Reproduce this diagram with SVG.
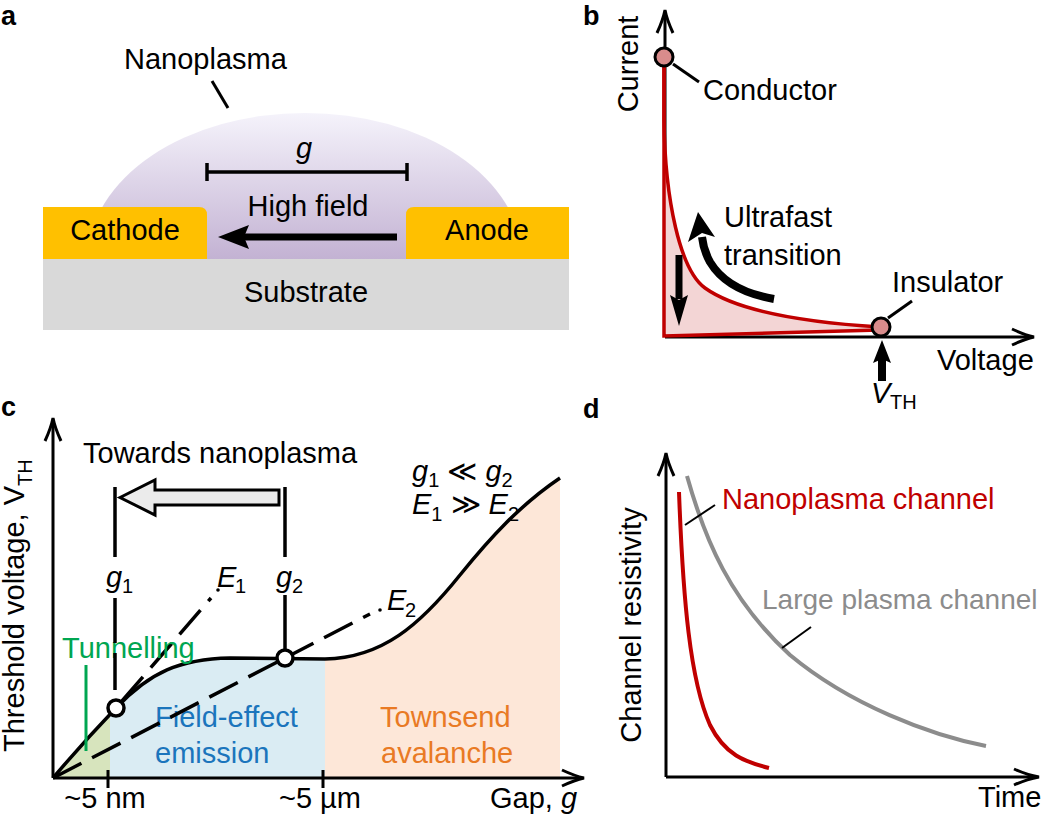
<svg xmlns="http://www.w3.org/2000/svg" width="1046" height="818" viewBox="0 0 1046 818">
<style>
text{font-family:"Liberation Sans",Arial,Helvetica,sans-serif;font-size:29px;fill:#000}
.lbl{font-weight:bold;font-size:27px}
.it{font-style:italic}
.sub{font-size:20px}
.ax{stroke:#000;stroke-width:3;fill:none}
.ah{stroke:#000;stroke-width:3;fill:none;stroke-linejoin:miter}
.ld{stroke:#000;stroke-width:3;fill:none}
.red{stroke:#c00000;stroke-width:3.5;fill:none}
.blk{stroke:#000;stroke-width:3.5;fill:none}
.dash{stroke:#000;stroke-width:3.5;fill:none;stroke-dasharray:32 12}
.circ{fill:#d98c8c;stroke:#000;stroke-width:3}
.wc{fill:#fff;stroke:#000;stroke-width:3.5}
</style>
<defs>
<linearGradient id="dome" x1="0" y1="113" x2="0" y2="259" gradientUnits="userSpaceOnUse">
<stop offset="0" stop-color="#f5f3fb"/>
<stop offset="1" stop-color="#c3b2d3"/>
</linearGradient>
</defs>

<!-- Panel a -->
<g id="panel-a">
<text class="lbl" x="1" y="25">a</text>
<path d="M88,259 A217,146 0 0 1 522,259 Z" fill="url(#dome)"/>
<rect x="43" y="259" width="526" height="71" fill="#d9d9d9"/>
<path d="M43,207 H199 Q207,207 207,215 V259 H43 Z" fill="#ffc000"/>
<path d="M414,207 H569 V259 H406 V215 Q406,207 414,207 Z" fill="#ffc000"/>
<text x="124" y="69">Nanoplasma</text>
<line class="ld" x1="212" y1="81" x2="228" y2="108"/>
<text class="it" x="304" y="158" text-anchor="middle">g</text>
<g stroke="#000" stroke-width="3.5">
<line x1="207" y1="172" x2="407" y2="172"/>
<line x1="207" y1="163" x2="207" y2="181"/>
<line x1="407" y1="163" x2="407" y2="181"/>
</g>
<text x="308" y="216" text-anchor="middle">High field</text>
<rect x="243" y="233.5" width="154" height="7" fill="#000"/>
<path d="M218,237 L249,225 L244,237 L249,249 Z" fill="#000"/>
<text x="125" y="240" text-anchor="middle">Cathode</text>
<text x="487" y="240" text-anchor="middle">Anode</text>
<text x="306" y="302" text-anchor="middle">Substrate</text>
</g>

<!-- Panel b -->
<g id="panel-b">
<text class="lbl" x="583" y="25">b</text>
<line class="ax" x1="665" y1="12" x2="665" y2="337"/>
<path class="ah" d="M657,33 Q663,20 665,10 Q667,20 673,33"/>
<line class="ax" x1="665" y1="337" x2="1031" y2="337"/>
<path class="ah" d="M1012,329 Q1025,335 1034,337 Q1025,339 1012,345"/>
<path d="M664,57 L664,120 C665,200 680,270 705,288 C735,309.6 800,322 880,327 L877,330 L664,336 Z" fill="#f3d5d5"/>
<path class="red" d="M664,57 L664,120 C665,200 680,270 705,288 C735,309.6 800,322 880,327"/>
<path class="red" d="M664,57 L664,336 L879,330"/>
<circle class="circ" cx="664" cy="57" r="9"/>
<circle class="circ" cx="881" cy="327" r="9"/>
<line class="ld" x1="673" y1="64" x2="699" y2="82"/>
<line class="ld" x1="888" y1="318" x2="912" y2="301"/>
<text x="703" y="100">Conductor</text>
<text x="892" y="292">Insulator</text>
<text transform="translate(638,64) rotate(-90)" text-anchor="middle">Current</text>
<text x="937" y="370">Voltage</text>
<text x="724" y="227">Ultrafast</text>
<text x="724" y="265">transition</text>
<path d="M774,299 C745,294 722,282 710,262 C705,253 703,246 702,237" stroke="#000" stroke-width="8" fill="none"/>
<path d="M688,242 L698,212 L715,237 L702,233 Z" fill="#000"/>
<rect x="675.5" y="255" width="7" height="44" fill="#000"/>
<path d="M670,295 L679,326 L688,295 L679,300 Z" fill="#000"/>
<rect x="878" y="357" width="8" height="24" fill="#000"/>
<path d="M873,363 L882,340 L891,363 L882,359 Z" fill="#000"/>
<text class="it" x="871" y="403">V</text>
<text class="sub" x="890" y="409">TH</text>
</g>

<!-- Panel c -->
<g id="panel-c">
<text class="lbl" x="1" y="416">c</text>
<path d="M53,778 L83,742 L110,714 L110,778 Z" fill="#d7e4bd"/>
<path d="M110,778 L110,714 L116,708 C150,672 180,659 230,658 L325,659 L325,778 Z" fill="#daecf3"/>
<path d="M325,778 L325,659 C382,658 420,625 460,575 C490,538 520,505 560,478 L560,468 L560,778 Z" fill="#fde7d8"/>
<text x="155" y="727" style="fill:#1b75bc">Field-effect</text>
<text x="155" y="763" style="fill:#1b75bc">emission</text>
<text x="380" y="727" style="fill:#e97a24">Townsend</text>
<text x="381" y="763" style="fill:#e97a24">avalanche</text>
<line class="ax" x1="53" y1="420" x2="53" y2="778"/>
<path class="ah" d="M45,441 Q51,428 53,418 Q55,428 61,441"/>
<line class="ax" x1="53" y1="778" x2="580" y2="778"/>
<path class="ah" d="M562,770 Q575,776 584,778 Q575,780 562,786"/>
<line class="ax" x1="108" y1="770" x2="108" y2="788"/>
<line class="ax" x1="323" y1="770" x2="323" y2="788"/>
<path class="dash" d="M53,778 L285,658"/>
<path class="dash" d="M285,658 L370,614"/>
<circle cx="380" cy="610" r="1.8" fill="#000"/>
<path class="dash" d="M122,701 L211,598" stroke-dasharray="34 12"/>
<circle cx="218" cy="590" r="1.8" fill="#000"/>
<path class="blk" d="M53,778 C75,752 95,730 116,708 C150,672 180,659 230,658 L325,659 C382,658 420,625 460,575 C490,538 520,505 560,478"/>
<line x1="86" y1="665" x2="86" y2="751" stroke="#00a651" stroke-width="3"/>
<text x="62" y="658" style="fill:#00a651">Tunnelling</text>
<g stroke="#000" stroke-width="3.5">
<line x1="115" y1="487" x2="115" y2="557"/>
<line x1="115" y1="598" x2="115" y2="643"/>
<line x1="115" y1="653" x2="115" y2="690"/>
<line x1="285" y1="487" x2="285" y2="557"/>
<line x1="285" y1="595" x2="285" y2="650"/>
</g>
<path d="M120,497.5 L155,480 L155,490 L279,490 L279,505 L155,505 L155,515 Z" fill="#ebebeb" stroke="#000" stroke-width="3" stroke-linejoin="miter"/>
<circle class="wc" cx="116" cy="708" r="8"/>
<circle class="wc" cx="285" cy="658" r="8"/>
<text x="83" y="463">Towards nanoplasma</text>
<text class="it" x="106" y="587">g</text><text class="sub" x="122" y="593">1</text>
<text class="it" x="276" y="587">g</text><text class="sub" x="292" y="593">2</text>
<text class="it" x="217" y="587">E</text><text class="sub" x="235" y="593">1</text>
<text class="it" x="387" y="610">E</text><text class="sub" x="405" y="617">2</text>
<text x="412" y="481"><tspan class="it">g</tspan><tspan class="sub" dy="6">1</tspan><tspan dy="-6"> ≪ </tspan><tspan class="it">g</tspan><tspan class="sub" dy="6">2</tspan></text>
<text x="412" y="514"><tspan class="it">E</tspan><tspan class="sub" dy="7">1</tspan><tspan dy="-7"> ≫ </tspan><tspan class="it">E</tspan><tspan class="sub" dy="7">2</tspan></text>
<text transform="translate(24,752) rotate(-90)">Threshold voltage, V<tspan class="sub" dy="8">TH</tspan></text>
<text x="105" y="808" text-anchor="middle">~5 nm</text>
<text x="320" y="808" text-anchor="middle">~5 µm</text>
<text x="490" y="808">Gap, <tspan class="it">g</tspan></text>
</g>

<!-- Panel d -->
<g id="panel-d">
<text class="lbl" x="583" y="418">d</text>
<line class="ax" x1="666" y1="455" x2="666" y2="777"/>
<path class="ah" d="M658,476 Q664,463 666,453 Q668,463 674,476"/>
<line class="ax" x1="666" y1="777" x2="1036" y2="777"/>
<path class="ah" d="M1014,769 Q1027,775 1039,777 Q1027,779 1014,785"/>
<path d="M687,476 C705,540 730,600 790,655 C850,705 930,735 986,746" stroke="#8c8c8c" stroke-width="4" fill="none"/>
<path d="M679,492 C683,600 690,680 710,725 C725,755 745,762 769,768" stroke="#c00000" stroke-width="4" fill="none"/>
<line x1="715" y1="505" x2="685" y2="525" stroke="#000" stroke-width="2"/>
<line x1="811" y1="627" x2="782" y2="648" stroke="#000" stroke-width="2"/>
<text x="722" y="509" style="fill:#c00000">Nanoplasma channel</text>
<text x="762" y="609" style="fill:#8c8c8c;font-size:28px">Large plasma channel</text>
<text transform="translate(641,625) rotate(-90)" text-anchor="middle">Channel resistivity</text>
<text x="978" y="807">Time</text>
</g>
</svg>
